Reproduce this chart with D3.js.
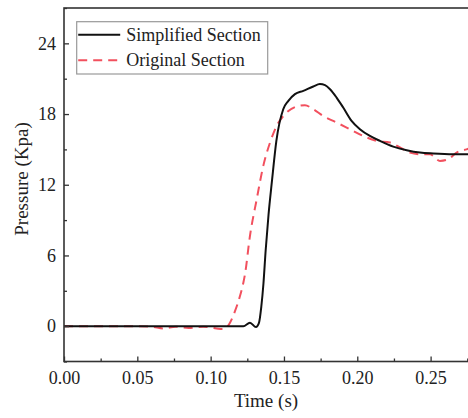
<!DOCTYPE html>
<html>
<head>
<meta charset="utf-8">
<script src="https://cdn.jsdelivr.net/npm/d3@7"></script>
<style>
  body { margin: 0; background: #fff; }
  svg text { font-family: "Liberation Serif", "Times New Roman", serif; fill: #222; }
</style>
</head>
<body>
<div id="chart"></div>
<script>
"use strict";

// Simplified Section (solid black): time (s), pressure (Kpa)
var simplifiedTime = [0, 0.02, 0.05, 0.08, 0.10, 0.115, 0.1223, 0.1268, 0.1309, 0.1330, 0.1345, 0.136,
  0.1375, 0.1395, 0.1418, 0.1448, 0.1495, 0.153, 0.1575, 0.1632, 0.170, 0.1745, 0.178, 0.1814, 0.1859,
  0.1904, 0.1961, 0.2018, 0.2086, 0.2155, 0.2245, 0.2337, 0.2427, 0.2518, 0.2655, 0.2757];
var simplifiedPressure = [0, 0, 0, 0, 0, 0, 0, 0.29, -0.08, 0.3, 1.6, 3.6,
  6.4, 9.5, 12.3, 15.7, 18.41, 19.12, 19.69, 19.97, 20.34, 20.54, 20.45, 20.11, 19.40,
  18.55, 17.42, 16.71, 16.14, 15.72, 15.24, 14.93, 14.73, 14.65, 14.59, 14.59];

// Original Section (dashed red)
var originalTime = [0, 0.02, 0.05, 0.06, 0.068, 0.076, 0.085, 0.095, 0.104, 0.108, 0.111, 0.1132, 0.1166,
  0.12, 0.1223, 0.1234, 0.1268, 0.1314, 0.1359, 0.1405, 0.145, 0.1507, 0.1586, 0.1643, 0.170, 0.1768,
  0.1859, 0.195, 0.2041, 0.2132, 0.2223, 0.2291, 0.2359, 0.2427, 0.2495, 0.2564, 0.262, 0.2677, 0.2745, 0.2757];
var originalPressure = [0, 0, 0, -0.05, -0.2, -0.05, -0.15, -0.05, -0.2, -0.25, -0.1, 0.29, 1.27,
  2.55, 3.69, 4.39, 7.65, 10.76, 13.6, 15.58, 16.99, 17.99, 18.64, 18.75, 18.41, 17.84,
  17.28, 16.71, 16.14, 15.72, 15.58, 15.16, 14.73, 14.59, 14.59, 14.02, 14.16, 14.73, 15.0, 15.05];

var xMajorTicks = [0, 0.05, 0.10, 0.15, 0.20, 0.25];
var xMinorTicks = [0.025, 0.075, 0.125, 0.175, 0.225, 0.275];
var yMajorTicks = [0, 6, 12, 18, 24];
var yMinorTicks = [-3, 3, 9, 15, 21, 27];

var seriesNames = ["Simplified Section", "Original Section"];
var seriesColors = ["#111111", "#f2505e"];

var width = 468, height = 418;
var margin = {top: 8, right: 0, bottom: 56.5, left: 64};
var innerW = width - margin.left - margin.right,
    innerH = height - margin.top - margin.bottom;

var x = d3.scaleLinear().domain([0, 0.2755]).range([0, innerW]);
var y = d3.scaleLinear().domain([-3, 27]).range([innerH, 0]);

var svg = d3.select("#chart").append("svg")
    .attr("width", width)
    .attr("height", height)
  .append("g")
    .attr("transform", "translate(" + margin.left + "," + margin.top + ")");

var line = d3.line()
  .x(function(d) { return x(d[0]); })
  .y(function(d) { return y(d[1]); })
  .curve(d3.curveMonotoneX);

var simplifiedData = simplifiedTime.map(function(t, i) { return [t, simplifiedPressure[i]]; });
var originalData = originalTime.map(function(t, i) { return [t, originalPressure[i]]; });

svg.append("clipPath").attr("id", "clip")
  .append("rect").attr("width", innerW).attr("height", innerH);

var plot = svg.append("g").attr("clip-path", "url(#clip)");

plot.append("path")
  .datum(originalData)
  .attr("fill", "none")
  .attr("stroke", seriesColors[1])
  .attr("stroke-width", 2)
  .attr("stroke-dasharray", "9,6")
  .attr("d", line);

plot.append("path")
  .datum(simplifiedData)
  .attr("fill", "none")
  .attr("stroke", seriesColors[0])
  .attr("stroke-width", 2)
  .attr("d", line);

// axes, ticks pointing inward
function styleAxis(g) {
  g.select(".domain").remove();
  g.selectAll(".tick line").attr("stroke", "#333").attr("stroke-width", 1.3);
  g.selectAll("text").attr("font-size", "18px").attr("fill", "#222");
}

svg.append("g")
    .attr("transform", "translate(0," + innerH + ")")
    .call(d3.axisBottom(x).tickValues(xMajorTicks).tickFormat(d3.format(".2f"))
      .tickSizeInner(-5).tickSizeOuter(0).tickPadding(10))
    .call(styleAxis);

svg.append("g")
    .attr("transform", "translate(0," + innerH + ")")
    .call(d3.axisBottom(x).tickValues(xMinorTicks).tickFormat("")
      .tickSizeInner(-3).tickSizeOuter(0))
    .call(styleAxis);

svg.append("g")
    .call(d3.axisLeft(y).tickValues(yMajorTicks).tickFormat(d3.format("d"))
      .tickSizeInner(-5).tickSizeOuter(0).tickPadding(8))
    .call(styleAxis);

svg.append("g")
    .call(d3.axisLeft(y).tickValues(yMinorTicks).tickFormat("")
      .tickSizeInner(-3).tickSizeOuter(0))
    .call(styleAxis);

// frame
svg.append("rect")
  .attr("x", 0).attr("y", 0)
  .attr("width", innerW + 2).attr("height", innerH)
  .attr("fill", "none")
  .attr("stroke", "#333")
  .attr("stroke-width", 1.6);

// axis titles
svg.append("text")
  .attr("x", innerW / 2)
  .attr("y", innerH + 45)
  .attr("text-anchor", "middle")
  .attr("font-size", "19px")
  .text("Time (s)");

svg.append("text")
  .attr("transform", "translate(" + (28 - margin.left) + "," + (179 - margin.top) + ") rotate(-90)")
  .attr("text-anchor", "middle")
  .attr("font-size", "19px")
  .text("Pressure (Kpa)");

// legend
var legend = svg.append("g").attr("transform", "translate(" + (76.7 - margin.left) + "," + (21.7 - margin.top) + ")");
legend.append("rect")
  .attr("width", 191).attr("height", 52.3)
  .attr("fill", "#fff")
  .attr("stroke", "#999")
  .attr("stroke-width", 1.2);

seriesNames.forEach(function(name, i) {
  var ly = 13 + i * 25.6;
  legend.append("line")
    .attr("x1", 1.5).attr("x2", 43.5)
    .attr("y1", ly).attr("y2", ly)
    .attr("stroke", seriesColors[i])
    .attr("stroke-width", 2)
    .attr("stroke-dasharray", i === 1 ? "9,6" : null);
  legend.append("text")
    .attr("x", 49.5)
    .attr("y", ly + 6)
    .attr("font-size", "18px")
    .text(name);
});
</script>
</body>
</html>
